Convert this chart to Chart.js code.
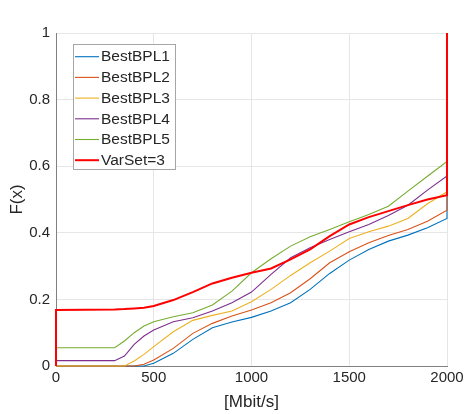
<!DOCTYPE html>
<html>
<head>
<meta charset="utf-8">
<script src="https://cdn.jsdelivr.net/npm/chart.js@4/dist/chart.umd.min.js"></script>
<style>
html, body { margin: 0; padding: 0; background: #fff; }
#wrap { width: 472px; height: 414px; }
</style>
</head>
<body>
<div id="wrap"><canvas id="myChart"></canvas></div>
<script>
// x positions of the empirical CDF samples (the last one is the jump to 1 at the cap)
const rates = [0, 0, 300, 350, 400, 450, 500, 600, 700, 800, 900, 1000, 1100, 1200, 1300, 1400, 1500, 1600, 1700, 1800, 1900, 2000, 2000]

const bestBPL1 = [0, 0, 0, 0, 0, 0, 0.008, 0.038, 0.08, 0.115, 0.132, 0.146, 0.165, 0.19, 0.23, 0.278, 0.318, 0.35, 0.375, 0.393, 0.415, 0.443, 1]
const bestBPL2 = [0, 0, 0, 0, 0, 0.005, 0.018, 0.053, 0.098, 0.128, 0.15, 0.168, 0.19, 0.22, 0.262, 0.31, 0.343, 0.37, 0.392, 0.41, 0.435, 0.468, 1]
const bestBPL3 = [0, 0, 0, 0, 0.015, 0.035, 0.058, 0.103, 0.137, 0.152, 0.165, 0.193, 0.23, 0.272, 0.31, 0.345, 0.383, 0.403, 0.42, 0.443, 0.487, 0.523, 1]
const bestBPL4 = [0, 0.016, 0.016, 0.03, 0.065, 0.09, 0.108, 0.133, 0.145, 0.165, 0.19, 0.222, 0.275, 0.325, 0.355, 0.38, 0.403, 0.425, 0.452, 0.483, 0.528, 0.571, 1]
const bestBPL5 = [0, 0.055, 0.055, 0.075, 0.1, 0.12, 0.133, 0.148, 0.16, 0.183, 0.225, 0.28, 0.322, 0.36, 0.388, 0.41, 0.433, 0.455, 0.48, 0.525, 0.57, 0.614, 1]
const varSet3 = [0, 0.168, 0.17, 0.171, 0.173, 0.175, 0.18, 0.198, 0.222, 0.248, 0.265, 0.28, 0.293, 0.32, 0.35, 0.39, 0.425, 0.447, 0.465, 0.483, 0.5, 0.513, 1]

const seriesNames = ["BestBPL1", "BestBPL2", "BestBPL3", "BestBPL4", "BestBPL5", "VarSet=3"]
const seriesValues = [bestBPL1, bestBPL2, bestBPL3, bestBPL4, bestBPL5, varSet3]
const seriesColors = ["#0072BD", "#D95319", "#EDB120", "#7E2F8E", "#77AC30", "#FF0000"]

const xTicks = [0, 500, 1000, 1500, 2000]
const yTicks = [0, 0.2, 0.4, 0.6, 0.8, 1]

const textColor = "#262626"
Chart.defaults.font.family = "'Liberation Sans', Arial, sans-serif"
Chart.defaults.font.size = 15
Chart.defaults.color = textColor

// legend box drawn inside the plot area, MATLAB style
const boxLegend = {
    id: "boxLegend",
    afterDatasetsDraw(chart) {
        const ctx = chart.ctx
        const x0 = 73, y0 = 44, w = 102, h = 125, rowH = 20.7
        ctx.save()
        ctx.fillStyle = "#ffffff"
        ctx.fillRect(x0, y0, w, h)
        ctx.strokeStyle = "#a6a6a6"
        ctx.lineWidth = 1
        ctx.strokeRect(x0 + 0.5, y0 + 0.5, w, h)
        ctx.font = "15.5px 'Liberation Sans', Arial, sans-serif"
        ctx.textBaseline = "middle"
        ctx.fillStyle = textColor
        chart.data.datasets.forEach((ds, i) => {
            const y = y0 + 12.7 + i * rowH
            ctx.strokeStyle = ds.borderColor
            ctx.lineWidth = ds.borderWidth
            ctx.beginPath()
            ctx.moveTo(x0 + 2, y)
            ctx.lineTo(x0 + 26, y)
            ctx.stroke()
            ctx.fillText(ds.label, x0 + 28, y + 0.5)
        })
        ctx.restore()
    }
}

// later series are drawn on top, as in the original plot
const datasets = seriesNames.map((name, i) => ({
    label: name,
    data: rates.map((r, j) => ({ x: r, y: seriesValues[i][j] })),
    borderColor: seriesColors[i],
    backgroundColor: seriesColors[i],
    borderWidth: i == 5 ? 2 : 1.1,
    pointRadius: 0,
    tension: 0,
    clip: false,
    order: seriesNames.length - i,
}))

let htmlChart = document.getElementById("myChart")
let chart = new Chart(htmlChart, {
    type: "line",
    data: { datasets: datasets },
    plugins: [boxLegend],
    options: {
        animation: false,
        responsive: true,
        maintainAspectRatio: false,
        layout: { padding: { left: 0, top: 33, right: 25, bottom: 0 } },
        plugins: {
            legend: { display: false },
            tooltip: { enabled: false }
        },
        scales: {
            x: {
                type: "linear",
                min: 0,
                max: 2000,
                afterBuildTicks: (scale) => { scale.ticks = xTicks.map(v => ({ value: v })) },
                afterFit: (scale) => { scale.height = 48 },
                ticks: { padding: 3, maxRotation: 0, color: textColor, callback: (v) => String(v) },
                grid: { color: "#e6e6e6", drawTicks: false },
                border: { color: "#808080", width: 1 },
                title: { display: true, text: "[Mbit/s]", color: textColor, font: { size: 17 }, padding: { top: 0, bottom: 1 } }
            },
            y: {
                type: "linear",
                min: 0,
                max: 1,
                afterBuildTicks: (scale) => { scale.ticks = yTicks.map(v => ({ value: v })) },
                afterFit: (scale) => { scale.width = 56 },
                ticks: { padding: 6, color: textColor, callback: (v) => String(v) },
                grid: { color: "#e6e6e6", drawTicks: false },
                border: { color: "#808080", width: 1 },
                title: { display: true, text: "F(x)", color: textColor, font: { size: 17 }, padding: { top: 7, bottom: 0 } }
            }
        }
    }
})
</script>
</body>
</html>
